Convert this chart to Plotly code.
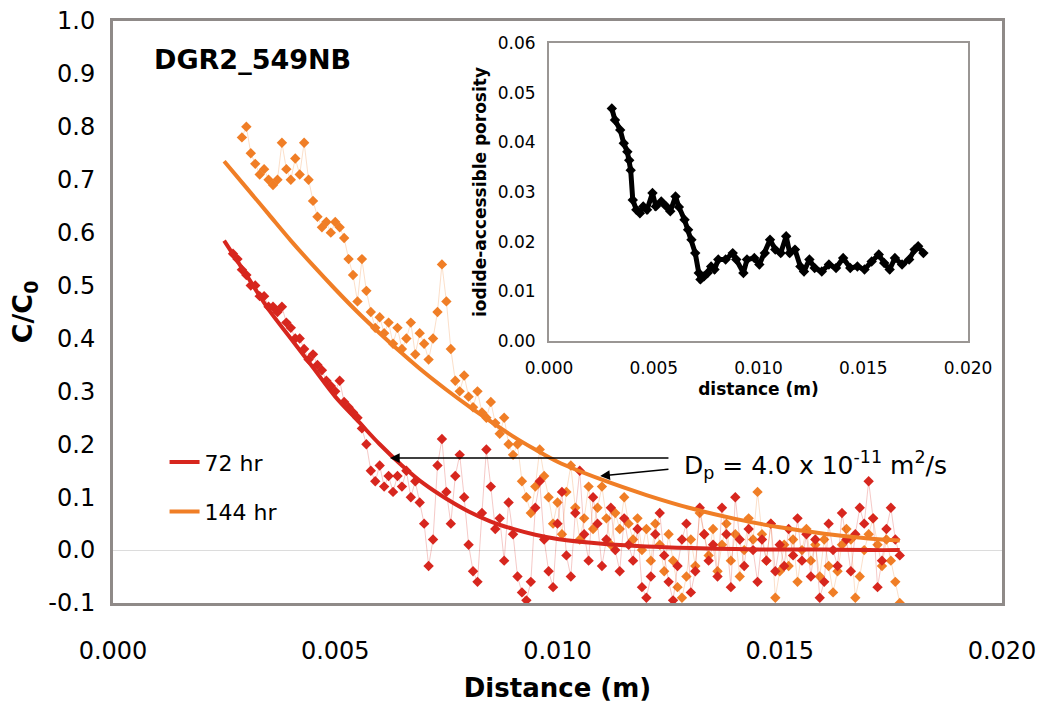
import plotly.graph_objects as go

# ---------------- data ----------------
distance_m = [
    0.0027, 0.0028, 0.0029, 0.0030, 0.0031, 0.0032, 0.0033, 0.0034, 0.0035, 0.0036,
    0.0037, 0.0038, 0.0039, 0.0040, 0.0041, 0.0042, 0.0043, 0.0044, 0.0045, 0.0046,
    0.0047, 0.0048, 0.0049, 0.0050, 0.0051, 0.0052, 0.0053, 0.0054, 0.0055, 0.0056,
    0.0057, 0.0058, 0.0059, 0.0060, 0.0061, 0.0062, 0.0063, 0.0064, 0.0065, 0.0066,
    0.0067, 0.0068, 0.0069, 0.0070, 0.0071, 0.0072, 0.0073, 0.0074, 0.0075, 0.0076,
    0.0077, 0.0078, 0.0079, 0.0080, 0.0081, 0.0082, 0.0083, 0.0084, 0.0085, 0.0086,
    0.0087, 0.0088, 0.0089, 0.0090, 0.0091, 0.0092, 0.0093, 0.0094, 0.0095, 0.0096,
    0.0097, 0.0098, 0.0099, 0.0100, 0.0101, 0.0102, 0.0103, 0.0104, 0.0105, 0.0106,
    0.0107, 0.0108, 0.0109, 0.0110, 0.0111, 0.0112, 0.0113, 0.0114, 0.0115, 0.0116,
    0.0117, 0.0118, 0.0119, 0.0120, 0.0121, 0.0122, 0.0123, 0.0124, 0.0125, 0.0126,
    0.0127, 0.0128, 0.0129, 0.0130, 0.0131, 0.0132, 0.0133, 0.0134, 0.0135, 0.0136,
    0.0137, 0.0138, 0.0139, 0.0140, 0.0141, 0.0142, 0.0143, 0.0144, 0.0145, 0.0146,
    0.0147, 0.0148, 0.0149, 0.0150, 0.0151, 0.0152, 0.0153, 0.0154, 0.0155, 0.0156,
    0.0157, 0.0158, 0.0159, 0.0160, 0.0161, 0.0162, 0.0163, 0.0164, 0.0165, 0.0166,
    0.0167, 0.0168, 0.0169, 0.0170, 0.0171, 0.0172, 0.0173, 0.0174, 0.0175, 0.0176,
    0.0177,
]

c_72hr = [
    0.56, 0.55, 0.53, 0.52, 0.50, 0.50, 0.48, 0.48, 0.46, 0.46,
    0.45, 0.46, 0.43, 0.42, 0.40, 0.40, 0.38, 0.36, 0.37, 0.35,
    0.34, 0.32, 0.31, 0.30, 0.32, 0.28, 0.27, 0.26, 0.25, 0.23,
    0.20, 0.15, 0.13, 0.16, 0.12, 0.14, 0.11, 0.14, 0.12, 0.15,
    0.10, 0.13, 0.09, 0.05, -0.03, 0.02, 0.16, 0.21, 0.11, 0.05,
    0.14, 0.18, 0.10, 0.01, -0.04, -0.06, 0.07, 0.19, 0.12, 0.04,
    0.06, -0.02, 0.09, 0.03, -0.05, -0.08, -0.095, -0.06, 0.08, 0.13,
    0.02, -0.04, -0.07, 0.05, 0.11, -0.01, -0.05, 0.07, 0.15, 0.03,
    -0.02, 0.10, 0.05, -0.03, 0.02, 0.08, 0.00, -0.04, 0.06, 0.01,
    -0.02, 0.04, -0.07, -0.09, -0.05, 0.03, 0.07, -0.01, -0.06, -0.095,
    -0.03, 0.02, 0.05, -0.08, -0.04, 0.08, 0.03, -0.02, 0.01, -0.05,
    0.08, 0.03, -0.07, 0.10, 0.02, -0.03, 0.04, 0.00, -0.06, 0.02,
    -0.02, 0.05, -0.04, 0.01, -0.03, 0.04, -0.01, 0.06, -0.02, 0.03,
    -0.05, 0.02, -0.09, -0.06, 0.05, 0.00, -0.03, 0.07, 0.02, -0.04,
    0.03, 0.08, 0.05, 0.13, 0.06, -0.07, -0.02, 0.04, 0.08, 0.02,
    -0.01,
]

c_144hr = [
    None, None, 0.78, 0.80, 0.75, 0.73, 0.71, 0.72, 0.70, 0.69,
    0.70, 0.77, 0.72, 0.70, 0.74, 0.71, 0.77, 0.70, 0.66, 0.63,
    0.61, 0.62, 0.60, 0.62, 0.61, 0.59, 0.55, 0.52, 0.47, 0.55,
    0.49, 0.45, 0.42, 0.44, 0.41, 0.43, 0.39, 0.42, 0.38, 0.40,
    0.43, 0.37, 0.41, 0.39, 0.36, 0.40, 0.45, 0.54, 0.47, 0.38,
    0.32, 0.30, 0.33, 0.29, 0.27, 0.30, 0.26, 0.25, 0.28, 0.24,
    0.22, 0.25, 0.20, 0.18, 0.20, 0.13, 0.10, 0.07, 0.12, 0.19,
    0.14, 0.10, 0.05, 0.09, 0.03, 0.11, 0.16, 0.08, 0.02, 0.06,
    0.12, 0.04, 0.08, 0.12, 0.06, 0.01, 0.07, 0.04, 0.10, 0.05,
    0.02, 0.06, 0.00, 0.04, -0.02, 0.05, 0.01, -0.04, 0.03, -0.02,
    -0.07, -0.09, -0.05, 0.02, -0.03, 0.07, 0.03, -0.01, 0.04, -0.04,
    0.01, 0.05, -0.02, 0.03, -0.05, 0.00, 0.06, 0.02, 0.11, 0.03,
    -0.02, 0.05, -0.09, -0.04, 0.01, -0.03, 0.02, -0.06, 0.00, 0.04,
    -0.02, 0.01, -0.05, 0.02, -0.03, -0.08, -0.04, 0.01, 0.04, 0.02,
    -0.09, -0.05, 0.00, 0.03, 0.06, 0.01, -0.03, 0.02, -0.02, -0.06,
    -0.10,
]

fit_x = [0.0025, 0.0030, 0.0035, 0.0040, 0.0045, 0.0050, 0.0055, 0.0060, 0.0065, 0.0070,
         0.0075, 0.0080, 0.0085, 0.0090, 0.0095, 0.0100, 0.0110, 0.0120, 0.0130, 0.0140,
         0.0150, 0.0160, 0.0170, 0.0177]
fit_72hr = [0.585, 0.52, 0.455, 0.40, 0.345, 0.29, 0.245, 0.20, 0.16, 0.125,
            0.097, 0.073, 0.054, 0.040, 0.029, 0.021, 0.012, 0.007, 0.004, 0.002,
            0.001, 0.001, 0.0, 0.0]
fit_144hr = [0.735, 0.685, 0.635, 0.585, 0.538, 0.493, 0.45, 0.41, 0.372, 0.336,
             0.303, 0.272, 0.243, 0.215, 0.19, 0.167, 0.133, 0.104, 0.079, 0.059,
             0.043, 0.031, 0.022, 0.018]

inset_distance = [0.0030, 0.00315, 0.0034, 0.00357, 0.00374, 0.00383, 0.0039, 0.0040, 0.00417, 0.00434,
                  0.0045, 0.00468, 0.00494, 0.0051, 0.00536, 0.0056, 0.00579, 0.00604, 0.0062, 0.00647,
                  0.00664, 0.0068, 0.00698, 0.00715, 0.00723, 0.0074, 0.00757, 0.00774, 0.0079, 0.00808,
                  0.00843, 0.00877, 0.00894, 0.00928, 0.00945, 0.0098, 0.01004, 0.0103, 0.01055, 0.0108,
                  0.01106, 0.01132, 0.01149, 0.01174, 0.0120, 0.01217, 0.01243, 0.01268, 0.01302, 0.01336,
                  0.0137, 0.01404, 0.01438, 0.01472, 0.01506, 0.0154, 0.01574, 0.0160, 0.01626, 0.01651,
                  0.01685, 0.01719, 0.01745, 0.01762, 0.01787]
inset_porosity = [0.0468, 0.0445, 0.0425, 0.0398, 0.0381, 0.0364, 0.0344, 0.0284, 0.0264, 0.0257,
                  0.0271, 0.0264, 0.0298, 0.0271, 0.0281, 0.0271, 0.0261, 0.0291, 0.0270, 0.0244,
                  0.0224, 0.0204, 0.0177, 0.0137, 0.0124, 0.0130, 0.0137, 0.0150, 0.0144, 0.0164,
                  0.0164, 0.0177, 0.0164, 0.0137, 0.0164, 0.0167, 0.0154, 0.0177, 0.0204, 0.0184,
                  0.0177, 0.0211, 0.0177, 0.0184, 0.0150, 0.0140, 0.0164, 0.0147, 0.0140, 0.0154,
                  0.0147, 0.0167, 0.0147, 0.0150, 0.0144, 0.0160, 0.0174, 0.0157, 0.0144, 0.0167,
                  0.0154, 0.0164, 0.0184, 0.0191, 0.0177]

x_ticks = [0.0, 0.005, 0.010, 0.015, 0.020]
x_tick_labels = ["0.000", "0.005", "0.010", "0.015", "0.020"]
y_ticks = [-0.1, 0.0, 0.1, 0.2, 0.3, 0.4, 0.5, 0.6, 0.7, 0.8, 0.9, 1.0]
y_tick_labels = ["-0.1", "0.0", "0.1", "0.2", "0.3", "0.4", "0.5", "0.6", "0.7", "0.8", "0.9", "1.0"]
inset_y_ticks = [0.0, 0.01, 0.02, 0.03, 0.04, 0.05, 0.06]
inset_y_labels = ["0.00", "0.01", "0.02", "0.03", "0.04", "0.05", "0.06"]

# ---------------- styling ----------------
FONT = "DejaVu Sans"
RED = "#D7261E"
ORANGE = "#F07E26"
FRAME = "#8f8a88"

fig = go.Figure()

fig.add_trace(go.Scatter(
    x=distance_m, y=c_144hr, mode="lines+markers",
    line=dict(color="rgba(240,126,38,0.25)", width=1),
    marker=dict(symbol="diamond", size=8, color=ORANGE),
    showlegend=False, connectgaps=False))
fig.add_trace(go.Scatter(
    x=distance_m, y=c_72hr, mode="lines+markers",
    line=dict(color="rgba(215,38,30,0.25)", width=1),
    marker=dict(symbol="diamond", size=8, color=RED),
    showlegend=False))
fig.add_trace(go.Scatter(
    x=fit_x, y=fit_72hr, mode="lines", name="72 hr",
    line=dict(color=RED, width=4, shape="spline"), legendgroup="a"))
fig.add_trace(go.Scatter(
    x=fit_x, y=fit_144hr, mode="lines", name="144 hr",
    line=dict(color=ORANGE, width=4, shape="spline"), legendgroup="b"))

# inset
fig.add_trace(go.Scatter(
    x=inset_distance, y=inset_porosity, mode="lines+markers",
    line=dict(color="black", width=5),
    marker=dict(symbol="diamond", size=8, color="black"),
    xaxis="x2", yaxis="y2", showlegend=False))

fig.update_layout(
    width=1044, height=707,
    margin=dict(l=113, r=42, t=21, b=104, autoexpand=False),
    paper_bgcolor="white", plot_bgcolor="white",
    font=dict(family=FONT, color="black"),
    xaxis=dict(
        range=[0, 0.020], tickvals=x_ticks, ticktext=x_tick_labels,
        showline=True, linecolor=FRAME, linewidth=3, mirror=True,
        showgrid=False, zeroline=False, ticks="", automargin=False,
        tickfont=dict(size=24), ticklabelstandoff=24,
        title=dict(text="<b>Distance (m)</b>", font=dict(size=26), standoff=16),
    ),
    yaxis=dict(
        range=[-0.1, 1.0], tickvals=y_ticks, ticktext=y_tick_labels,
        showline=True, linecolor=FRAME, linewidth=3, mirror=True,
        showgrid=False, zeroline=True, zerolinecolor="#dcdcdc", zerolinewidth=1,
        ticks="", tickfont=dict(size=24), ticklabelstandoff=10, automargin=False,
        title=dict(text="<b>C/C<sub>0</sub></b>", font=dict(size=27), standoff=8),
    ),
    xaxis2=dict(
        domain=[0.4904, 0.9618], anchor="y2", range=[0, 0.020],
        tickvals=x_ticks, ticktext=x_tick_labels,
        showline=True, linecolor="#9a9694", linewidth=2, mirror=True,
        showgrid=False, zeroline=False, ticks="", automargin=False,
        tickfont=dict(size=17), ticklabelstandoff=11,
        title=dict(text="<b>distance (m)</b>", font=dict(size=17), standoff=6),
    ),
    yaxis2=dict(
        domain=[0.4502, 0.9622], anchor="x2", range=[0, 0.06],
        tickvals=inset_y_ticks, ticktext=inset_y_labels,
        showline=True, linecolor="#9a9694", linewidth=2, mirror=True,
        showgrid=False, zeroline=False, ticks="", automargin=False,
        tickfont=dict(size=17), ticklabelstandoff=8,
        title=dict(text="<b>iodide-accessible porosity</b>", font=dict(size=17), standoff=7),
    ),
    legend=dict(
        x=0.058, y=0.278, xanchor="left", yanchor="top",
        bgcolor="rgba(0,0,0,0)", font=dict(size=22),
        tracegroupgap=18, traceorder="grouped",
    ),
    annotations=[
        dict(text="<b>DGR2_549NB</b>", x=0.00088, y=0.928, xref="x", yref="y",
             xanchor="left", yanchor="middle", showarrow=False, font=dict(size=27)),
        dict(text="D<sub>p</sub> = 4.0 x 10<sup>-11</sup> m<sup>2</sup>/s",
             x=0.0128, y=0.16, xref="x", yref="y", xanchor="left", yanchor="middle",
             showarrow=False, font=dict(size=25)),
        dict(text="", x=0.00623, y=0.174, ax=0.01253, ay=0.174, xref="x", yref="y",
             axref="x", ayref="y", showarrow=True, arrowhead=2, arrowsize=1.3,
             arrowwidth=1.5, arrowcolor="black"),
        dict(text="", x=0.01096, y=0.140, ax=0.01253, ay=0.153, xref="x", yref="y",
             axref="x", ayref="y", showarrow=True, arrowhead=2, arrowsize=1.3,
             arrowwidth=1.5, arrowcolor="black"),
    ],
)

fig.write_html("out.html")
